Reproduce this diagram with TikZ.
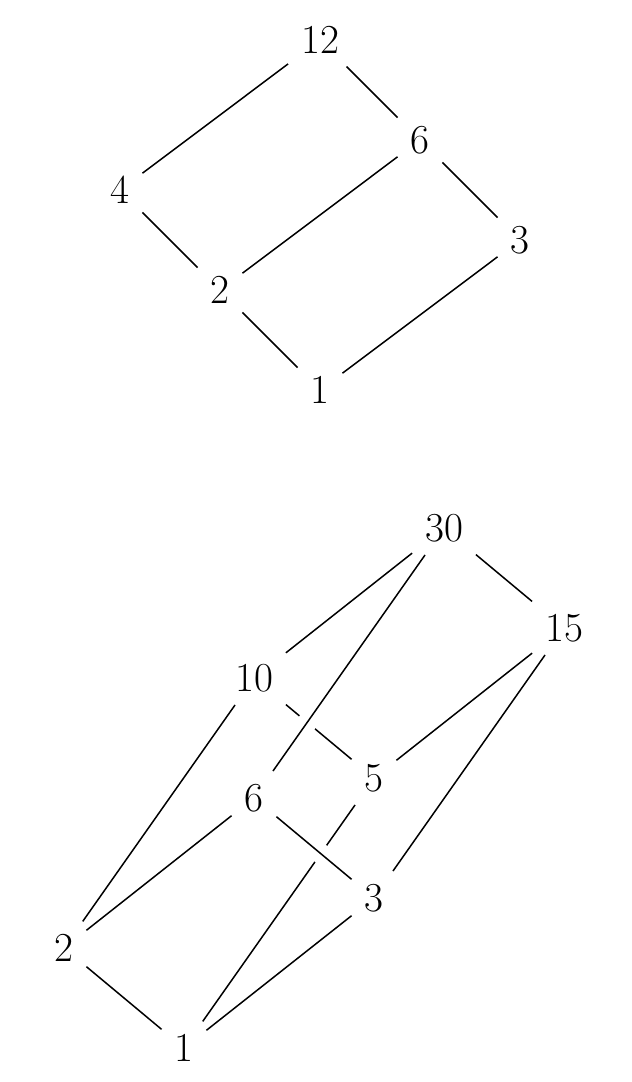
\documentclass[tikz,border=0pt]{standalone}
\begin{document}
\begin{tikzpicture}[x=0.5pt,y=-0.5pt,
  elem/.style={inner sep=6.3pt,font=\fontsize{20.6}{24}\selectfont},
  edge/.style={line width=0.75pt,black},
  front/.style={preaction={draw,white,line width=10pt},line width=0.75pt,black}]
\useasboundingbox (0,0) rectangle (632,1082);
% top lattice: divisors of 12
\node[elem] (a1) at (320,390) {1};
\node[elem] (a2) at (220,290) {2};
\node[elem] (a3) at (520,240) {3};
\node[elem] (a4) at (120,190) {4};
\node[elem] (a6) at (420,140) {6};
\node[elem] (a12) at (320,40) {12};
\draw[edge] (a1) -- (a2);
\draw[edge] (a1) -- (a3);
\draw[edge] (a2) -- (a4);
\draw[edge] (a2) -- (a6);
\draw[edge] (a3) -- (a6);
\draw[edge] (a4) -- (a12);
\draw[edge] (a6) -- (a12);
% bottom lattice: divisors of 30
\node[elem] (b1) at (184,1048) {1};
\node[elem] (b2) at (64,948) {2};
\node[elem] (b3) at (374,898) {3};
\node[elem] (b5) at (374,778) {5};
\node[elem] (b6) at (254,798) {6};
\node[elem] (b10) at (254,678) {10};
\node[elem] (b15) at (564,628) {15};
\node[elem] (b30) at (444,528) {30};
\draw[edge] (b1) -- (b2);
\draw[edge] (b1) -- (b3);
\draw[edge] (b1) -- (b5);
\draw[edge] (b2) -- (b6);
\draw[edge] (b2) -- (b10);
\draw[edge] (b3) -- (b15);
\draw[edge] (b5) -- (b15);
\draw[edge] (b10) -- (b5);
\draw[edge] (b10) -- (b30);
\draw[edge] (b15) -- (b30);
\draw[front] (b6) -- (b3);
\draw[front] (b6) -- (b30);
\end{tikzpicture}
\end{document}
